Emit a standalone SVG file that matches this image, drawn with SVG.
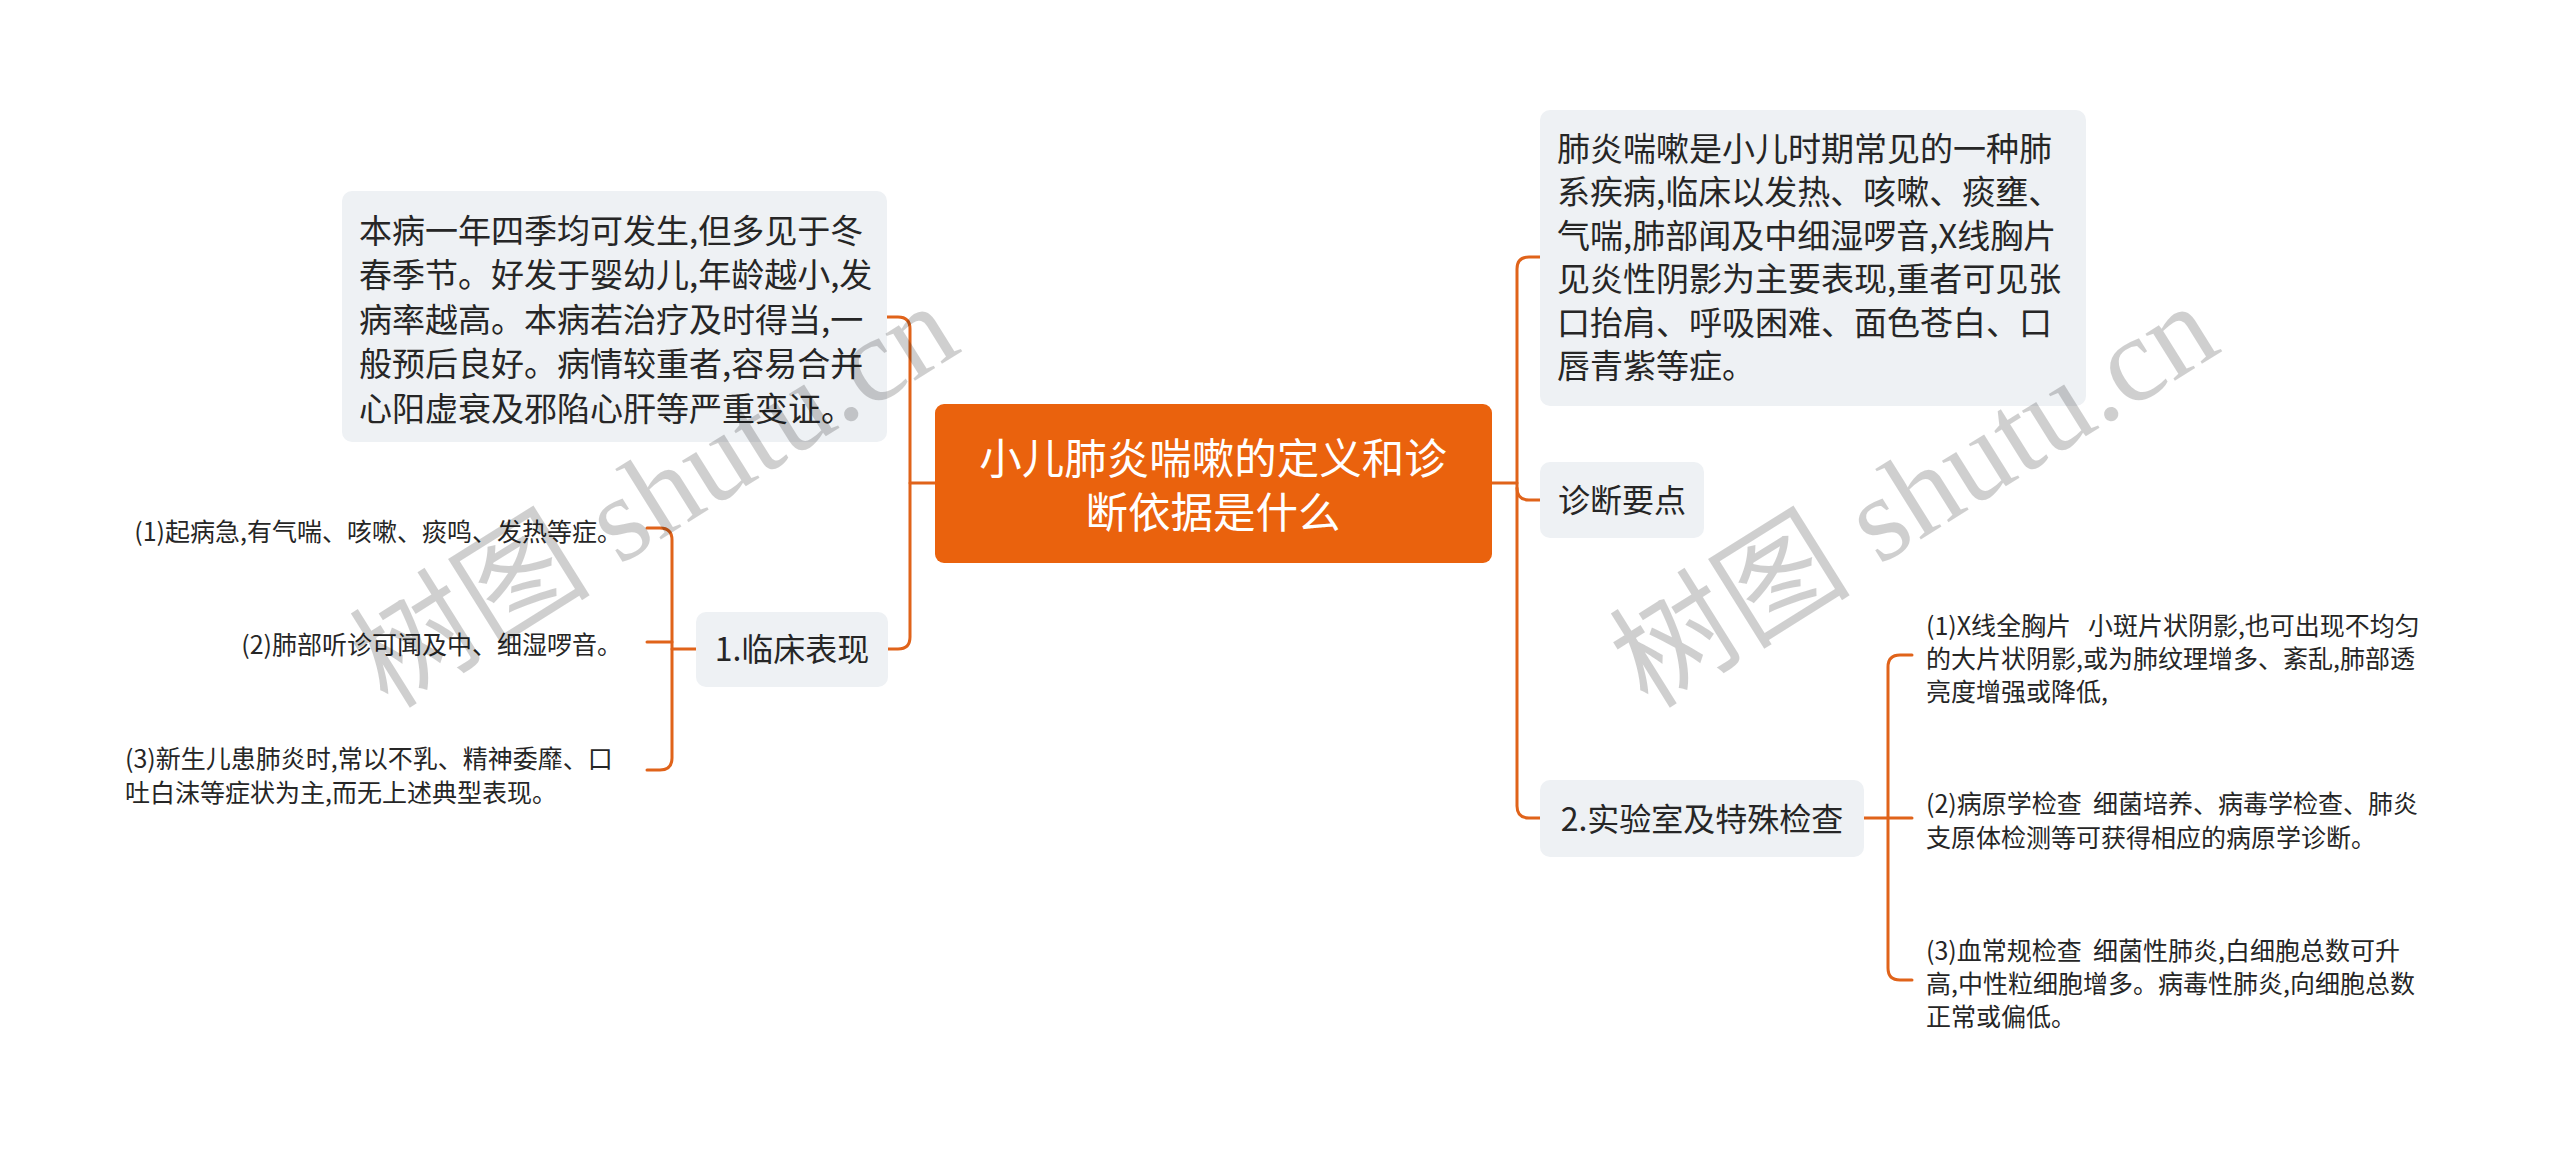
<svg xmlns="http://www.w3.org/2000/svg" width="2560" height="1154" viewBox="0 0 2560 1154">
<defs>
<style>
.bg{fill:#ffffff}
.box{fill:#eef1f4}
.root{fill:#ea620d}
.t{font-family:"Noto Sans CJK SC","Noto Sans",sans-serif;fill:#262626;white-space:pre}
.big{font-size:33px}
.mid{font-size:32px}
.sm{font-size:25px}
.rt{font-family:"Liberation Sans","Noto Sans CJK SC",sans-serif;font-size:42.5px;fill:#ffffff}
.c{fill:none;stroke:#e0631a;stroke-width:3;stroke-linecap:round}
.wm{font-family:"Liberation Serif","Noto Sans CJK SC",serif;font-size:121px;fill:#000000;fill-opacity:0.19}
</style>
</defs>
<rect class="bg" x="0" y="0" width="2560" height="1154"/>
<g id="connectors">
<path class="c" d="M935 483 H910"/>
<path class="c" d="M887 317 H898 Q910 317 910 329 V637 Q910 649 898 649 H888"/>
<path class="c" d="M1492 483 H1517"/>
<path class="c" d="M1540 257 H1529 Q1517 257 1517 269 V806 Q1517 818 1529 818 H1540"/>
<path class="c" d="M1517 488 Q1517 500 1529 500 H1540"/>
<path class="c" d="M647 528 H660 Q672 528 672 540 V758 Q672 770 660 770 H647"/>
<path class="c" d="M647 642 H672"/>
<path class="c" d="M672 649 H696"/>
<path class="c" d="M1912 655 H1900 Q1888 655 1888 667 V968 Q1888 980 1900 980 H1912"/>
<path class="c" d="M1864 818 H1912"/>
</g>
<g id="root">
<rect class="root" x="935" y="404" width="557" height="159" rx="9"/>
<text class="rt" text-anchor="middle"><tspan x="1213" y="474">小儿肺炎喘嗽的定义和诊</tspan><tspan x="1213" y="528">断依据是什么</tspan></text>
</g>
<g id="node-intro-left">
<rect class="box" x="342" y="191" width="545" height="251" rx="10"/>
<text class="t big"><tspan x="359" y="242.5">本病一年四季均可发生,但多见于冬</tspan><tspan x="359" y="287">春季节。好发于婴幼儿,年龄越小,发</tspan><tspan x="359" y="331.5">病率越高。本病若治疗及时得当,一</tspan><tspan x="359" y="376">般预后良好。病情较重者,容易合并</tspan><tspan x="359" y="420.5">心阳虚衰及邪陷心肝等严重变证。</tspan></text>
</g>
<g id="node-clinical">
<rect class="box" x="696" y="612" width="192" height="75" rx="10"/>
<text class="t mid" x="792" y="661" text-anchor="middle">1.临床表现</text>
</g>
<g id="leaf-c1">
<text class="t sm" x="622" y="540.5" text-anchor="end">(1)起病急,有气喘、咳嗽、痰鸣、发热等症。</text>
</g>
<g id="leaf-c2">
<text class="t sm" x="622" y="653.5" text-anchor="end">(2)肺部听诊可闻及中、细湿啰音。</text>
</g>
<g id="leaf-c3">
<text class="t sm"><tspan x="125" y="767.5">(3)新生儿患肺炎时,常以不乳、精神委靡、口</tspan><tspan x="125" y="801.5">吐白沫等症状为主,而无上述典型表现。</tspan></text>
</g>
<g id="node-def">
<rect class="box" x="1540" y="110" width="546" height="296" rx="10"/>
<text class="t big"><tspan x="1557" y="160.5">肺炎喘嗽是小儿时期常见的一种肺</tspan><tspan x="1557" y="204">系疾病,临床以发热、咳嗽、痰壅、</tspan><tspan x="1557" y="247.5">气喘,肺部闻及中细湿啰音,X线胸片</tspan><tspan x="1557" y="291">见炎性阴影为主要表现,重者可见张</tspan><tspan x="1557" y="334.5">口抬肩、呼吸困难、面色苍白、口</tspan><tspan x="1557" y="378">唇青紫等症。</tspan></text>
</g>
<g id="node-diag">
<rect class="box" x="1540" y="462" width="164" height="76" rx="10"/>
<text class="t mid" x="1622" y="512" text-anchor="middle">诊断要点</text>
</g>
<g id="node-lab">
<rect class="box" x="1540" y="780" width="324" height="77" rx="10"/>
<text class="t mid" x="1702" y="831" text-anchor="middle">2.实验室及特殊检查</text>
</g>
<g id="leaf-l1">
<text class="t sm"><tspan x="1926" y="634.5">(1)X线全胸片   小斑片状阴影,也可出现不均匀</tspan><tspan x="1926" y="667.5">的大片状阴影,或为肺纹理增多、紊乱,肺部透</tspan><tspan x="1926" y="700.5">亮度增强或降低,</tspan></text>
</g>
<g id="leaf-l2">
<text class="t sm"><tspan x="1926" y="812.5">(2)病原学检查  细菌培养、病毒学检查、肺炎</tspan><tspan x="1926" y="846.5">支原体检测等可获得相应的病原学诊断。</tspan></text>
</g>
<g id="leaf-l3">
<text class="t sm"><tspan x="1926" y="959.5">(3)血常规检查  细菌性肺炎,白细胞总数可升</tspan><tspan x="1926" y="992.5">高,中性粒细胞增多。病毒性肺炎,向细胞总数</tspan><tspan x="1926" y="1025.5">正常或偏低。</tspan></text>
</g>
<g id="watermark">
<text class="wm" transform="translate(388 710) rotate(-32)">树图 shutu.cn</text>
<text class="wm" transform="translate(1648 710) rotate(-32)">树图 shutu.cn</text>
</g>
</svg>
